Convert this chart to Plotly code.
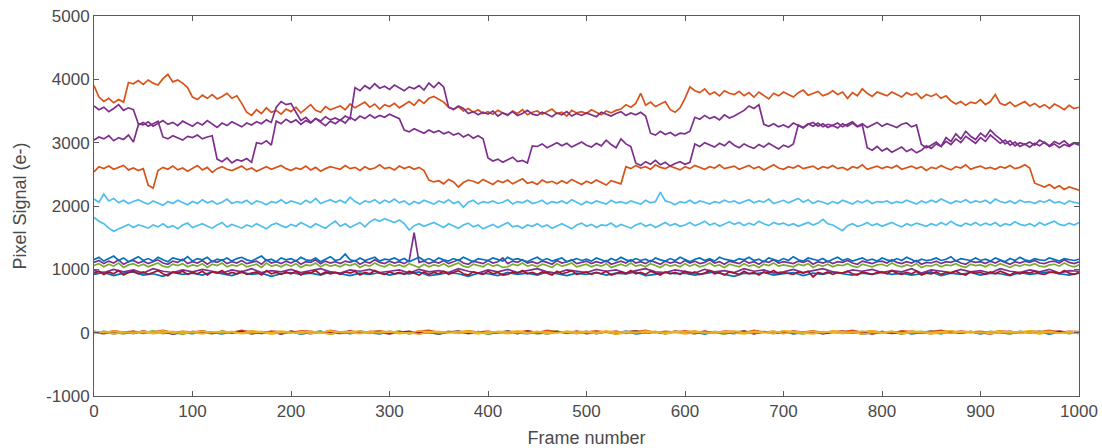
import plotly.graph_objects as go

# frame grids (5-frame and 10-frame sampling)
frames5 = list(range(0, 1001, 5))
frames10 = list(range(0, 1001, 10))

x_tick_vals = [0, 100, 200, 300, 400, 500, 600, 700, 800, 900, 1000]
x_tick_text = ["0", "100", "200", "300", "400", "500", "600", "700", "800", "900", "1000"]
y_tick_vals = [-1000, 0, 1000, 2000, 3000, 4000, 5000]
y_tick_text = ["-1000", "0", "1000", "2000", "3000", "4000", "5000"]

orange_hi = [
    3900, 3720, 3650, 3700, 3630, 3680, 3640, 3950, 3930, 3980,
    3920, 3990, 3940, 3910, 4010, 4080, 3960, 3990, 3940, 3870,
    3720, 3680, 3750, 3700, 3760, 3690, 3730, 3780, 3700, 3740,
    3620, 3480, 3430, 3520, 3460, 3550, 3480, 3510, 3450, 3530,
    3490, 3560, 3470, 3530, 3600, 3510, 3480, 3570, 3520, 3550,
    3580, 3520, 3610, 3550, 3590, 3640, 3560, 3610, 3530, 3600,
    3570, 3620, 3550, 3600, 3650, 3590, 3680, 3620, 3700, 3730,
    3680, 3640, 3560, 3520, 3570, 3500, 3540, 3480, 3520, 3460,
    3490, 3450, 3510, 3470, 3430, 3500, 3460, 3520, 3440, 3480,
    3500, 3450, 3490, 3530, 3460, 3480, 3420, 3510, 3470, 3490,
    3460, 3520, 3480, 3440, 3500, 3470, 3510, 3530, 3600, 3560,
    3620, 3780, 3590, 3640, 3570, 3610, 3650, 3520, 3480, 3550,
    3700, 3880, 3820, 3790, 3850, 3760, 3800, 3740, 3820, 3780,
    3760, 3810, 3740, 3790, 3720, 3800, 3750, 3690, 3780, 3740,
    3800, 3760, 3720, 3790, 3830, 3750, 3780, 3810, 3740, 3770,
    3820, 3760, 3800, 3700, 3790, 3740, 3850, 3780, 3730, 3800,
    3770, 3740, 3800, 3760, 3720, 3790, 3750, 3780, 3700, 3760,
    3730, 3770, 3700, 3740, 3660, 3610, 3650, 3590, 3640, 3620,
    3680, 3600, 3650, 3760, 3620, 3590, 3640, 3570, 3610, 3650,
    3580, 3620, 3560, 3600, 3540, 3610, 3570, 3520, 3590, 3540,
    3560,
]

orange_lo = [
    2540, 2620, 2590, 2630, 2580, 2610, 2640, 2570, 2600, 2560,
    2590, 2330, 2280, 2560, 2610, 2580, 2630, 2570, 2600, 2550,
    2600, 2640, 2570, 2610, 2530, 2590, 2620, 2580, 2560, 2600,
    2630, 2570, 2600, 2550, 2590, 2620, 2580, 2610, 2640, 2590,
    2560, 2600, 2580, 2630, 2570, 2610, 2550, 2590, 2620, 2600,
    2580, 2640, 2590, 2610, 2560, 2620, 2580, 2600, 2650, 2590,
    2610, 2570, 2630, 2590, 2620, 2580, 2610, 2560, 2410, 2380,
    2400, 2350, 2420, 2380, 2300, 2370, 2410, 2390, 2360, 2420,
    2380, 2340, 2400, 2370, 2410, 2350, 2390, 2430, 2360, 2380,
    2340, 2410, 2370, 2390, 2350, 2400, 2360, 2420, 2380, 2340,
    2390, 2360, 2410, 2370, 2330, 2400, 2380, 2350, 2620, 2590,
    2640, 2600, 2620, 2580, 2650, 2610, 2590, 2630, 2600, 2570,
    2620, 2590, 2640, 2610, 2580, 2620, 2600, 2650, 2590, 2610,
    2630, 2580, 2610, 2640, 2590, 2620, 2570, 2610, 2650, 2600,
    2580, 2620, 2600, 2640, 2590, 2610, 2630, 2580, 2620, 2600,
    2640, 2590, 2610, 2570, 2620, 2600, 2650, 2580, 2610, 2630,
    2590, 2620, 2600, 2640, 2580, 2610, 2630, 2590, 2620, 2560,
    2610, 2590, 2640, 2600, 2570, 2620, 2600, 2650, 2580, 2610,
    2630, 2590, 2610, 2580, 2620, 2600, 2640, 2590, 2610, 2650,
    2600, 2360, 2330, 2300, 2340, 2280, 2320, 2260, 2300, 2270,
    2250,
]

purple_a = [
    3580, 3520, 3560, 3490, 3540, 3600, 3510, 3550, 3520, 3300,
    3280, 3330, 3260, 3310, 3350, 3290, 3320, 3270, 3340, 3300,
    3260, 3320, 3280, 3350, 3300, 3240, 3310, 3270, 3330, 3290,
    3250, 3310, 3280, 3330, 3300, 3360, 3320, 3560, 3650, 3600,
    3620, 3480, 3350, 3400, 3320, 3380, 3340, 3410, 3360, 3390,
    3350, 3420, 3380, 3870, 3820, 3900, 3850, 3930, 3860, 3890,
    3840, 3910, 3870, 3820, 3880, 3850, 3900, 3830, 3940, 3870,
    3950, 3880, 3560, 3530, 3580, 3540, 3460, 3490, 3440, 3480,
    3450, 3500, 3420, 3470, 3440, 3490, 3430, 3460, 3510, 3450,
    3430, 3480, 3450, 3410, 3470, 3440, 3490, 3420, 3460, 3430,
    3470, 3440, 3410, 3480, 3450, 3420, 3460, 3490, 3430, 3470,
    3440, 3480, 3420, 3150, 3120, 3180, 3130, 3160, 3110, 3150,
    3140, 3180, 3400, 3370, 3430, 3380, 3410, 3360, 3440, 3390,
    3420, 3470, 3510, 3580, 3540, 3600, 3290, 3260, 3300, 3250,
    3280, 3240, 3310, 3270, 3230, 3290, 3320, 3260, 3300, 3240,
    3270, 3310, 3250, 3290, 3330, 3260, 3300, 3240, 3280, 3320,
    3260, 3300, 3270, 3240, 3290, 3310, 3250, 3280, 2970, 2920,
    2960, 3010, 2940, 3080, 3020, 3140, 3060, 3180, 3100, 3050,
    3150, 3090, 3200, 3120, 3060, 2980, 3030, 2950, 3000, 2970,
    3010, 2960, 3040, 2990, 2950, 3020, 2980, 3030, 2960, 3000,
    2990,
]

purple_b = [
    3040, 3090, 3060, 3110, 3030, 3080, 3050, 3120, 3010, 3280,
    3320, 3260, 3300, 3340, 3090, 3060, 3110, 3070, 3040, 3100,
    3080, 3120, 3060, 3090, 3110, 2740, 2700, 2760, 2680, 2730,
    2710, 2750, 2690, 3000, 2980, 3030, 2960, 3340, 3300, 3370,
    3320, 3360, 3290, 3350, 3310, 3380, 3330, 3270, 3340, 3300,
    3360, 3310, 3400, 3350, 3420, 3380, 3440, 3390, 3430, 3400,
    3450, 3410, 3380, 3200, 3170, 3220, 3180, 3150, 3200, 3160,
    3190, 3140, 3170, 3120, 3150, 3090, 3130, 3070, 3110, 3060,
    2760, 2710, 2740, 2690, 2730, 2770, 2700, 2720, 2680, 2950,
    2940, 2980, 2920, 2960, 3000, 2950, 2990, 2930, 2970, 3010,
    2960, 2930, 2990, 2950, 3040, 2970, 2920, 3060, 2980, 2940,
    2680, 2640, 2700, 2660, 2720, 2650, 2690, 2630, 2670, 2700,
    2660, 2690, 2980, 2940, 3000, 2960, 2930, 2990, 2950, 3020,
    2960, 2920, 2980, 2940, 2910, 2970, 2930, 2990, 2950, 2900,
    2960, 2930, 2980, 3280, 3240, 3300, 3260, 3310, 3250, 3290,
    3270, 3230, 3300, 3260, 3310, 3250, 3280, 2920, 2880, 2940,
    2870, 2910, 2850, 2890, 2930, 2860, 2900, 2840, 2880, 2950,
    2910, 2980, 2940, 3020, 2970, 3060, 3000, 3100, 3040, 2990,
    3080, 3020, 3120, 3050, 2990, 3040, 2960, 3010, 2940, 2980,
    2930, 2990, 2950, 3010, 2940, 2980, 2920, 2970, 2940, 2990,
    2960,
]

cyan_a = [
    2110, 2060, 2190, 2080, 2120, 2050, 2090, 2040, 2070, 2100,
    2060, 2030, 2080, 2050, 2010, 2070, 2040, 2090, 2060, 2020,
    2070, 2040, 2100, 2050, 2080, 2030, 2060, 2110, 2040, 2070,
    2050, 2090, 2030, 2080, 2060, 2020, 2070, 2050, 2100, 2040,
    2080, 2060, 2030, 2090, 2050, 2120, 2040, 2070, 2100, 2060,
    2090, 2050, 2140, 2070, 2030, 2080, 2060, 2100, 2040, 2090,
    2060, 2110, 2050, 2080, 2020, 2070, 2040, 2090, 2060, 2030,
    2080, 2050, 2100, 2040, 2070, 1980, 2060, 2090, 2030, 2070,
    2050, 2080, 2040, 2060, 2100, 2030, 2070, 2050, 2090, 2040,
    2060, 2090, 2030, 2070, 2050, 2080, 2040, 2100, 2060, 2020,
    2070, 2040, 2080, 2060, 2030, 2090, 2050, 2070, 2040, 2080,
    2060, 2030, 2090, 2050, 2070, 2220, 2080, 2060, 2020, 2070,
    2050, 2090, 2040, 2080, 2060, 2030, 2070, 2050, 2090, 2060,
    2080, 2040, 2070, 2100, 2050, 2080, 2060, 2110, 2040, 2070,
    2090, 2050, 2080, 2120, 2060, 2100, 2040, 2080, 2060, 2030,
    2070, 2040, 2090, 2060, 2030, 2080, 2050, 2090, 2040, 2070,
    2060, 2080, 2040, 2070, 2050, 2090, 2060, 2030, 2080, 2050,
    2090, 2060, 2110, 2070, 2040, 2080, 2060, 2100, 2050, 2080,
    2060, 2090, 2040, 2110, 2070, 2050, 2080, 2040, 2090, 2060,
    2070, 2040, 2080, 2060, 2100, 2050, 2070, 2030, 2080, 2060,
    2040,
]

cyan_b = [
    1820, 1760, 1720, 1650, 1600, 1640, 1680, 1710, 1660, 1700,
    1680, 1650, 1700, 1670, 1720, 1660, 1690, 1640, 1700, 1730,
    1660, 1690, 1720, 1680, 1650, 1700, 1740, 1670, 1710, 1680,
    1650, 1700, 1670, 1720, 1680, 1640, 1700, 1730, 1690, 1660,
    1710, 1680, 1740, 1700, 1660, 1720, 1690, 1650, 1710, 1760,
    1680, 1720, 1660, 1700, 1740, 1670, 1750, 1790, 1760, 1800,
    1770, 1740, 1780, 1720, 1620, 1690, 1720, 1680, 1710, 1740,
    1700, 1660, 1720, 1690, 1650, 1700, 1730, 1670, 1700, 1640,
    1680, 1710, 1660, 1700, 1740, 1670, 1690, 1650, 1700, 1680,
    1720, 1670, 1700, 1650, 1690, 1720, 1680, 1640, 1700, 1730,
    1680, 1710, 1660, 1700, 1690, 1730, 1670, 1710, 1680, 1650,
    1700, 1730, 1680, 1710, 1660, 1700, 1740, 1690, 1720, 1680,
    1700, 1740, 1690, 1720, 1760, 1700, 1730, 1680, 1720, 1750,
    1710, 1740, 1690, 1730, 1700, 1760, 1720, 1690, 1740, 1710,
    1730, 1690, 1720, 1680, 1710, 1740, 1700, 1730, 1790, 1720,
    1700, 1660, 1610, 1690, 1720, 1680, 1700, 1740, 1690, 1720,
    1680, 1710, 1740, 1700, 1670, 1720, 1690, 1730, 1700, 1680,
    1720, 1690, 1740, 1700, 1760, 1710, 1680, 1730, 1700, 1740,
    1690, 1730, 1700, 1740, 1680, 1720, 1700, 1750, 1710, 1690,
    1720, 1680, 1740, 1700, 1730, 1760, 1710, 1690, 1730, 1700,
    1740,
]

blue_hi = [
    1150, 1190, 1130, 1170, 1210, 1140, 1180, 1120, 1160, 1200,
    1140, 1170, 1130, 1190, 1150, 1120, 1180, 1160, 1140, 1200,
    1130, 1170, 1150, 1190, 1120, 1160, 1140, 1180, 1130, 1170,
    1190, 1150, 1130, 1170, 1210, 1140, 1160, 1120, 1180, 1150,
    1170, 1130, 1190, 1150, 1140, 1180, 1120, 1160, 1200, 1140,
    1160, 1240, 1150, 1130, 1180, 1140, 1170, 1190, 1130, 1160,
    1150, 1180, 1140, 1170, 1120, 1160, 1190, 1140, 1170, 1130,
    1180, 1150, 1130, 1170, 1140, 1190, 1160, 1120, 1170, 1150,
    1140, 1180, 1160, 1130, 1190, 1150, 1170, 1140, 1120, 1160,
    1190, 1140, 1170, 1130, 1160, 1180, 1120, 1150, 1170, 1140,
    1160, 1130, 1180, 1150, 1120, 1170, 1140, 1190, 1150, 1130,
    1170, 1140, 1160, 1120, 1180, 1150, 1130, 1170, 1140, 1190,
    1150, 1120, 1160, 1180, 1140, 1170, 1130, 1190, 1160, 1140,
    1130, 1170, 1150, 1190, 1140, 1160, 1120, 1180, 1150, 1130,
    1170, 1140, 1200, 1150, 1130, 1180, 1160, 1140, 1170, 1120,
    1160, 1190, 1140, 1170, 1130, 1150, 1180, 1140, 1160, 1130,
    1180, 1150, 1130, 1170, 1140, 1190, 1150, 1120, 1160, 1140,
    1150, 1180, 1140, 1160, 1200, 1130, 1170, 1150, 1140, 1180,
    1140, 1160, 1130, 1180, 1150, 1120, 1170, 1140, 1190, 1150,
    1130, 1170, 1150, 1140, 1180, 1160, 1130, 1170, 1150, 1140,
    1160,
]

purple_1k = [
    1110, 1140, 1090, 1130, 1100, 1150, 1080, 1120, 1140, 1100,
    1130, 1090, 1120, 1150, 1100, 1080, 1130, 1110, 1160, 1090,
    1120, 1100, 1140, 1080, 1130, 1110, 1150, 1090, 1120, 1100,
    1140, 1090, 1110, 1130, 1080, 1150, 1100, 1120, 1090, 1130,
    1100, 1140, 1080, 1120, 1110, 1150, 1090, 1130, 1100, 1120,
    1090, 1130, 1110, 1140, 1080, 1120, 1100, 1150, 1110, 1090,
    1130, 1100, 1120, 1090, 1140, 1580, 1110, 1130, 1090, 1120,
    1100, 1140, 1090, 1120, 1150, 1100, 1080, 1130, 1110, 1090,
    1140, 1100, 1120, 1180, 1090, 1130, 1110, 1150, 1100, 1120,
    1090, 1130, 1110, 1080, 1140, 1100, 1120, 1150, 1090, 1110,
    1130, 1090, 1120, 1100, 1140, 1080, 1110, 1130, 1100, 1150,
    1100, 1120, 1090, 1140, 1110, 1080, 1130, 1100, 1120, 1090,
    1140, 1100, 1130, 1090, 1110, 1150, 1100, 1120, 1080, 1130,
    1110, 1090, 1140, 1100, 1120, 1080, 1130, 1110, 1150, 1100,
    1120, 1100, 1090, 1130, 1110, 1140, 1080, 1120, 1100, 1130,
    1090, 1120, 1110, 1140, 1100, 1080, 1130, 1110, 1090, 1120,
    1130, 1100, 1150, 1110, 1090, 1120, 1100, 1140, 1080, 1110,
    1100, 1130, 1090, 1120, 1110, 1140, 1100, 1080, 1130, 1110,
    1120, 1090, 1130, 1100, 1140, 1110, 1080, 1120, 1100, 1130,
    1110, 1140, 1100, 1090, 1120, 1130, 1100, 1150, 1110, 1090,
    1120,
]

green_1k = [
    1060, 1090, 1040, 1080, 1050, 1100, 1030, 1070, 1090, 1050,
    1080, 1040, 1070, 1100, 1050, 1030, 1080, 1060, 1090, 1040,
    1070, 1050, 1090, 1030, 1080, 1060, 1100, 1040, 1070, 1050,
    1090, 1040, 1060, 1080, 1030, 1100, 1050, 1070, 1040, 1080,
    1050, 1090, 1030, 1070, 1060, 1100, 1040, 1080, 1050, 1070,
    1040, 1080, 1060, 1090, 1030, 1070, 1050, 1100, 1060, 1040,
    1080, 1050, 1070, 1040, 1090, 1060, 1030, 1080, 1040, 1070,
    1050, 1090, 1040, 1070, 1100, 1050, 1030, 1080, 1060, 1040,
    1090, 1050, 1070, 1030, 1040, 1080, 1060, 1100, 1050, 1070,
    1040, 1080, 1060, 1030, 1090, 1050, 1070, 1100, 1040, 1060,
    1080, 1040, 1070, 1050, 1090, 1030, 1060, 1080, 1050, 1100,
    1050, 1070, 1040, 1090, 1060, 1030, 1080, 1050, 1070, 1040,
    1090, 1050, 1080, 1040, 1060, 1100, 1050, 1070, 1030, 1080,
    1060, 1040, 1090, 1050, 1070, 1030, 1080, 1060, 1100, 1050,
    1070, 1050, 1040, 1080, 1060, 1090, 1030, 1070, 1050, 1080,
    1040, 1070, 1060, 1090, 1050, 1030, 1080, 1060, 1040, 1070,
    1080, 1050, 1100, 1060, 1040, 1070, 1050, 1090, 1030, 1060,
    1050, 1080, 1040, 1070, 1060, 1090, 1050, 1030, 1080, 1060,
    1070, 1040, 1080, 1050, 1090, 1060, 1030, 1070, 1050, 1080,
    1060, 1090, 1050, 1040, 1070, 1080, 1050, 1100, 1060, 1040,
    1070,
]

maroon_1k = [
    940, 970, 920, 960, 930, 980, 910, 950, 970, 930,
    960, 920, 950, 980, 930, 900, 960, 940, 970, 920,
    950, 930, 970, 910, 960, 940, 980, 920, 950, 930,
    970, 920, 940, 960, 910, 980, 930, 950, 920, 960,
    930, 970, 910, 950, 940, 980, 920, 960, 930, 950,
    920, 960, 940, 970, 910, 950, 930, 980, 940, 920,
    960, 930, 950, 920, 970, 940, 910, 960, 920, 950,
    930, 970, 920, 950, 980, 930, 910, 960, 940, 920,
    970, 930, 950, 910, 920, 960, 940, 980, 930, 950,
    920, 960, 940, 910, 970, 930, 950, 980, 920, 940,
    960, 920, 950, 930, 970, 910, 940, 960, 930, 980,
    930, 950, 920, 970, 940, 910, 960, 930, 950, 920,
    970, 930, 960, 920, 940, 980, 930, 950, 910, 960,
    940, 920, 970, 930, 950, 910, 960, 940, 980, 930,
    950, 930, 920, 960, 940, 970, 880, 950, 930, 960,
    920, 950, 940, 970, 930, 910, 960, 940, 920, 950,
    960, 930, 980, 940, 920, 950, 930, 970, 910, 940,
    930, 960, 920, 950, 940, 970, 930, 910, 960, 940,
    950, 920, 960, 930, 970, 940, 910, 950, 930, 960,
    940, 970, 930, 920, 950, 960, 930, 980, 940, 920,
    950,
]

blue_1k_lo = [
    920, 950, 900, 940, 960, 910, 930, 890, 950, 920,
    940, 910, 960, 930, 900, 950, 920, 940, 890, 930,
    950, 920, 940, 910, 960, 930, 900, 940, 920, 950,
    910, 940, 930, 960, 900, 920, 950, 930, 890, 940,
    930, 900, 950, 920, 940, 910, 960, 930, 900, 940,
    920, 950, 910, 940, 930, 960, 900, 920, 950, 930,
    940, 910, 930, 960, 920, 890, 940, 930, 950, 910,
    930, 950, 900, 940, 920, 960, 930, 910, 940, 920,
    950, 920, 940, 910, 930, 960, 900, 940, 920, 950,
    910, 940, 930, 900, 950, 920, 940, 960, 930, 910,
    940,
]

purple_1k_lo = [
    980, 950, 1000, 960, 990, 940, 1010, 970, 950, 990,
    960, 1000, 970, 940, 990, 960, 1010, 950, 980, 960,
    1000, 950, 980, 1010, 960, 940, 990, 970, 1000, 950,
    970, 990, 940, 1000, 960, 980, 950, 1010, 970, 940,
    990, 960, 1000, 950, 980, 1010, 960, 940, 990, 970,
    950, 1000, 970, 990, 940, 980, 1010, 960, 950, 990,
    970, 940, 1000, 960, 980, 950, 1010, 970, 990, 940,
    960, 1000, 950, 980, 1010, 960, 940, 990, 970, 1000,
    950, 980, 960, 1010, 940, 990, 970, 950, 1000, 960,
    980, 940, 1010, 970, 950, 990, 960, 1000, 940, 980,
    970,
]

blue_0 = [
    0, 15, -20, 10, -10, 25, -5, 20, -25, 5,
    -15, 20, 5, -20, 15, -5, 25, -10, 10, -20,
    15, -25, 5, 20, -10, 10, -15, 25, 0, -20,
    20, -5, 15, -15, 5, -25, 10, 20, -10, 15,
    -20, 5, 25, -5, -15, 10, -20, 15, 5, -10,
    20, -15, 10, -5, 25, -20, 0, 15, -10, 20,
    -5, 10, -25, 15, 5, -15, 20, -10, 10, -5,
    25, -20, 5, 15, -15, 10, -5, 20, -25, 0,
    15, -10, 20, -20, 5, 25, -15, 10, -5, 15,
    -20, 10, 0, -15, 20, -5, 15, -25, 10, 5,
    -10,
]

orange_0 = [
    20, -5, 30, 5, 25, -10, 15, 35, 0, 20,
    10, 30, -5, 20, 5, 35, 10, -10, 25, 15,
    0, 30, 20, -5, 35, 10, 25, 0, 15, 30,
    5, 20, -10, 25, 35, 5, 15, 0, 30, 10,
    25, -5, 20, 10, 30, 0, 35, 15, -5, 20,
    10, 30, 5, 25, -10, 15, 35, 0, 20, 10,
    30, 5, 20, -5, 25, 15, 0, 35, 10, 20,
    -5, 25, 10, 30, 0, 20, 15, 35, 5, 25,
    10, -10, 30, 15, 0, 20, 35, 5, 25, 10,
    20, 0, 30, 10, -5, 25, 15, 35, 5, 20,
    15,
]

green_0 = [
    -10, 20, 5, -20, 15, -5, 30, -15, 10, -25,
    20, 0, -15, 25, -5, 10, -20, 15, 5, -10,
    25, -15, 5, 20, -25, 10, -5, 15, -10, 20,
    -5, 25, -20, 10, 0, -15, 20, 5, -10, 15,
    -25, 10, 20, -5, 15, -20, 5, 25, -10, 0,
    15, -10, 20, -15, 5, 30, -5, 10, -20, 15,
    0, 20, -10, 5, -25, 15, 25, -5, 10, -15,
    20, 5, -20, 15, -5, 25, -10, 0, 20, -15,
    5, 15, -25, 10, 20, -5, -15, 25, 0, 10,
    -10, 20, 5, -20, 15, -5, 25, -10, 10, -15,
    5,
]

maroon_0 = [
    5, -15, 20, 0, -10, 25, -5, 15, -20, 10,
    0, 20, -10, 15, -5, 25, -15, 5, 10, -20,
    20, 5, -15, 10, 0, -10, 25, -5, 15, 5,
    -20, 10, 20, -5, 15, -15, 5, 25, -10, 0,
    10, -5, 20, -15, 25, 5, -10, 15, 0, 20,
    -15, 5, 10, -20, 15, 25, -5, 10, -10, 20,
    5, -15, 20, 0, 10, -5, 25, -20, 15, 5,
    -10, 20, 0, 15, -15, 5, 25, -5, 10, -20,
    15, 0, -10, 20, 5, -15, 25, 10, -5, 15,
    0, -20, 10, 20, -5, 15, -10, 5, 25, 0,
    10,
]

yellow_0 = [
    15, 0, 25, 10, -5, 20, 5, 30, -10, 15,
    5, 25, 0, 20, 10, -5, 30, 15, 0, 25,
    10, -10, 20, 5, 30, 0, 15, 25, -5, 10,
    20, 5, -5, 30, 10, 20, 0, 15, 25, 5,
    -10, 20, 10, 30, 0, 15, 5, -5, 25, 10,
    20, 0, 30, 5, 15, -5, 25, 10, 0, 20,
    10, 30, -5, 15, 5, 25, 0, 20, 10, -10,
    30, 15, 5, 20, -5, 25, 10, 0, 15, 30,
    5, 20, -10, 25, 10, 0, 15, 30, 5, 20,
    -5, 15, 25, 0, 10, 30, 5, 20, -5, 15,
    10,
]

yellow_1 = [
    -10, 10, -20, 5, -5, 15, -15, 0, 20, -10,
    5, -20, 10, -5, 15, -15, 0, 10, -25, 5,
    -5, 15, -10, 0, -20, 10, 5, -15, 20, -5,
    10, -15, 0, -25, 15, -5, 5, -10, 10, -20,
    15, -5, -15, 5, -10, 20, -20, 0, 10, -15,
    5, -10, 15, -25, 0, 10, -5, 20, -15, 5,
    -20, 0, 10, -10, 15, -5, -20, 5, 0, 20,
    -15, 10, -5, -20, 15, 0, -10, 10, -25, 5,
    -5, 20, -15, 0, 10, -20, 5, -10, 15, -5,
    10, -15, 0, 20, -10, 5, -20, 10, -5, 0,
    -10,
]

BLUE = "#0072BD"
ORANGE = "#D95319"
YELLOW = "#EDB120"
PURPLE = "#7E2F8E"
GREEN = "#77AC30"
CYAN = "#4DBEEE"
MAROON = "#A2142F"

series = [
    (frames10, blue_0, BLUE),
    (frames10, orange_0, ORANGE),
    (frames10, green_0, GREEN),
    (frames10, maroon_0, MAROON),
    (frames10, yellow_1, YELLOW),
    (frames10, yellow_0, YELLOW),
    (frames10, blue_1k_lo, BLUE),
    (frames5, purple_1k, PURPLE),
    (frames5, blue_hi, BLUE),
    (frames5, green_1k, GREEN),
    (frames10, purple_1k_lo, PURPLE),
    (frames5, maroon_1k, MAROON),
    (frames5, cyan_b, CYAN),
    (frames5, cyan_a, CYAN),
    (frames5, orange_lo, ORANGE),
    (frames5, orange_hi, ORANGE),
    (frames5, purple_b, PURPLE),
    (frames5, purple_a, PURPLE),
]

for i, (xs, ys, _) in enumerate(series):
    if len(xs) != len(ys):
        raise ValueError(f"series {i}: {len(ys)} values for {len(xs)} frames")

fig = go.Figure()
for xs, ys, col in series:
    fig.add_trace(go.Scatter(x=xs, y=ys, mode="lines",
                             line=dict(color=col, width=1.7),
                             hoverinfo="skip"))

axis_col = "#5a5a5a"
fig.update_layout(
    width=1102, height=448,
    margin=dict(l=94, r=23, t=16, b=52),
    paper_bgcolor="white", plot_bgcolor="white",
    showlegend=False,
    font=dict(family="Liberation Sans, Arial, sans-serif", size=17, color="#4a4a4a"),
)
fig.update_xaxes(
    automargin=False,
    range=[0, 1000], tickvals=x_tick_vals, ticktext=x_tick_text,
    ticks="inside", ticklen=5, tickcolor=axis_col, tickwidth=1,
    showline=True, linecolor=axis_col, linewidth=1, mirror="ticks",
    showgrid=False, zeroline=False,
    title=dict(text="Frame number", font=dict(size=18, color="#4a4a4a"), standoff=14),
)
fig.update_yaxes(
    automargin=False,
    range=[-1000, 5000], tickvals=y_tick_vals, ticktext=y_tick_text,
    ticks="inside", ticklen=5, tickcolor=axis_col, tickwidth=1,
    showline=True, linecolor=axis_col, linewidth=1, mirror="ticks",
    showgrid=False, zeroline=False,
    title=dict(text="Pixel Signal (e-)", font=dict(size=18, color="#4a4a4a"), standoff=14),
)

fig.write_html("out.html")
